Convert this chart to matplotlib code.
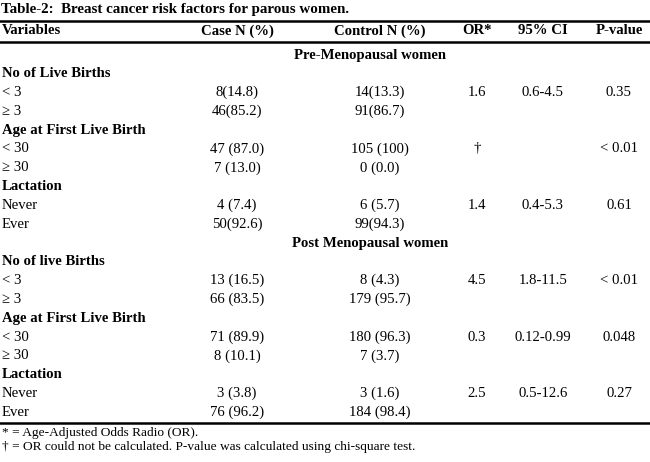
import matplotlib
matplotlib.use("Agg")
import matplotlib.pyplot as plt

# table content
title = "Table-2:  Breast cancer risk factors for parous women."
headers = ["Variables", "Case N (%)", "Control N (%)", "OR*", "95% CI", "P-value"]
sections = ["Pre-Menopausal women", "Post Menopausal women"]
groups = [["No of Live Births", "Age at First Live Birth", "Lactation"],
          ["No of live Births", "Age at First Live Birth", "Lactation"]]
levels = [["< 3", "≥ 3"], ["< 30", "≥ 30"], ["Never", "Ever"]]

case_n = ["8(14.8)", "46(85.2)", "47 (87.0)", "7 (13.0)", "4 (7.4)", "50(92.6)",
          "13 (16.5)", "66 (83.5)", "71 (89.9)", "8 (10.1)", "3 (3.8)", "76 (96.2)"]
control_n = ["14(13.3)", "91(86.7)", "105 (100)", "0 (0.0)", "6 (5.7)", "99(94.3)",
             "8 (4.3)", "179 (95.7)", "180 (96.3)", "7 (3.7)", "3 (1.6)", "184 (98.4)"]
odds_ratio = ["1.6", "†", "1.4", "4.5", "0.3", "2.5"]
ci_95 = ["0.6-4.5", "", "0.4-5.3", "1.8-11.5", "0.12-0.99", "0.5-12.6"]
p_value = ["0.35", "< 0.01", "0.61", "< 0.01", "0.048", "0.27"]

footnotes = ["* = Age-Adjusted Odds Radio (OR).",
             "† = OR could not be calculated. P-value was calculated using chi-square test."]

plt.rcParams['font.family'] = ['Liberation Serif', 'DejaVu Serif']

fig = plt.figure(figsize=(6.5, 4.62), dpi=100)
ax = fig.add_axes([0, 0, 1, 1])
ax.set_xlim(0, 650)
ax.set_ylim(462, 0)
ax.axis('off')

fs = 10.6
fb = 10.6
col_x = [2, 237, 380, 477, 543, 619]

ax.text(1, 9, title, fontsize=10.8, fontweight='bold', va='center', ha='left')
ax.plot([0, 650], [21, 21], color='black', lw=1.8)
for i, h in enumerate(headers):
    ax.text(col_x[i] if i else 2, 31, h, fontsize=fb, fontweight='bold', va='center',
            ha='left' if i == 0 else 'center')
ax.plot([0, 650], [42, 42], color='black', lw=1.8)

y = 55
step = 18.8
k = 0
for s, sec in enumerate(sections):
    ax.text(370, y, sec, fontsize=fb, fontweight='bold', va='center', ha='center')
    y += step
    for g, grp in enumerate(groups[s]):
        ax.text(2, y, grp, fontsize=fb, fontweight='bold', va='center', ha='left')
        y += step
        j = s * 3 + g
        for l, lev in enumerate(levels[g]):
            ax.text(2, y, lev, fontsize=fs, va='center', ha='left')
            ax.text(col_x[1], y, case_n[k], fontsize=fs, va='center', ha='center')
            ax.text(col_x[2], y, control_n[k], fontsize=fs, va='center', ha='center')
            if l == 0:
                ax.text(col_x[3], y, odds_ratio[j], fontsize=fs, va='center', ha='center')
                ax.text(col_x[4], y, ci_95[j], fontsize=fs, va='center', ha='center')
                ax.text(col_x[5], y, p_value[j], fontsize=fs, va='center', ha='center')
            k += 1
            y += step

ax.plot([0, 650], [423, 423], color='black', lw=1.8)
ax.text(2, 433, footnotes[0], fontsize=9.6, va='center', ha='left')
ax.text(2, 447, footnotes[1], fontsize=9.6, va='center', ha='left')

fig.savefig("out.png", dpi=100)
